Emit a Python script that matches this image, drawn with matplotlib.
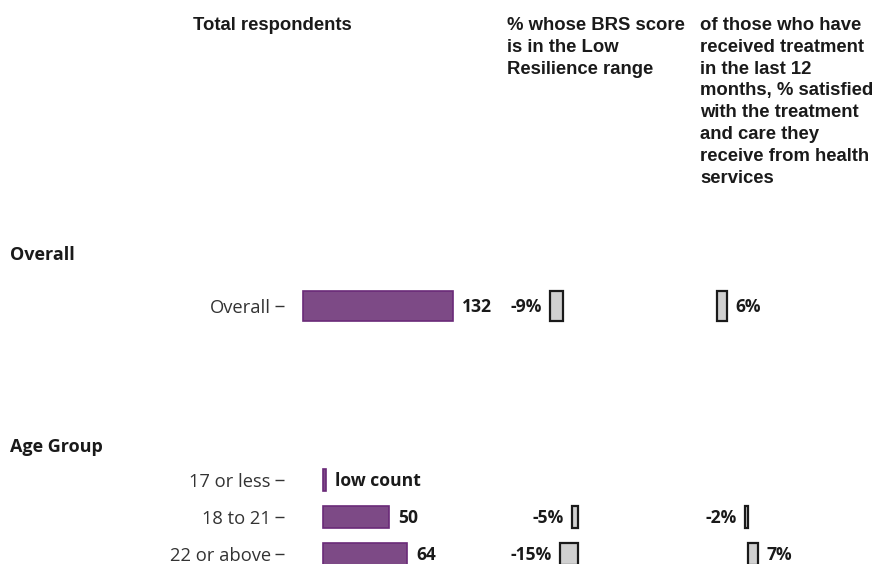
import matplotlib
matplotlib.use("Agg")
import matplotlib.pyplot as plt

# ---------------- data ----------------
overall_cats = ["Overall"]
overall_total = [132]
overall_total_labels = ["132"]
overall_brs = [-9]
overall_treat = [6]

age_cats = ["17 or less", "18 to 21", "22 or above"]
age_total = [2, 50, 64]
age_total_labels = ["low count", "50", "64"]
age_brs = [None, -5, -15]
age_treat = [None, -2, 7]

headers = [
    "Total respondents",
    "% whose BRS score\nis in the Low\nResilience range",
    "of those who have\nreceived treatment\nin the last 12\nmonths, % satisfied\nwith the treatment\nand care they\nreceive from health\nservices",
]
facet_labels = ["Overall", "Age Group"]

# ---------------- style ----------------
W, H = 878, 564
PURPLE = "#7d4a86"
PURPLE_EDGE = "#6a2a78"
GREY = "#d0d0d0"
TXT = "#1a1a1a"
BODY_FONT = "Open Sans"
HEAD_FONT = "Liberation Sans"
FS = 12.6
TICK_FS = 13.2

fig = plt.figure(figsize=(W / 100, H / 100), dpi=100)
fig.patch.set_facecolor("white")


def add_panel(x0, x1, ytop, ybot, zero_px, px_per_unit, n):
    ax = fig.add_axes([x0 / W, 1 - ybot / H, (x1 - x0) / W, (ybot - ytop) / H])
    ax.set_xlim((x0 - zero_px) / px_per_unit, (x1 - zero_px) / px_per_unit)
    ax.set_ylim(n - 0.5, -0.5)
    for s in ax.spines.values():
        s.set_visible(False)
    ax.set_xticks([])
    ax.set_yticks([])
    ax.patch.set_alpha(0)
    return ax


def value_label(ax, y, v, text, gap=8):
    off = gap if v >= 0 else -gap
    ax.annotate(text, xy=(v, y), xytext=(off, -1), textcoords="offset pixels",
                ha="left" if v >= 0 else "right", va="center",
                fontsize=FS, fontweight="bold", color=TXT, family=BODY_FONT)


# column pixel extents
COLS = [(284, 500), (500, 690), (690, 878)]
ROWS = {"overall": (279, 333), "age": (461.5, 572.5)}
BAR_H = 0.57

panels = [
    # (row, cats, total, total_labels, brs, treat, zeros, scales)
    ("overall", overall_cats, overall_total, overall_total_labels, overall_brs, overall_treat,
     (303, 563, 717), (1.136, 1.44, 1.67)),
    ("age", age_cats, age_total, age_total_labels, age_brs, age_treat,
     (323, 578, 748), (1.32, 1.2, 1.43)),
]

for row, cats, tot, tot_lab, brs, trt, zeros, scales in panels:
    ytop, ybot = ROWS[row]
    n = len(cats)
    ys = list(range(n))
    # total respondents
    ax = add_panel(COLS[0][0], COLS[0][1], ytop, ybot, zeros[0], scales[0], n)
    ax.barh(ys, tot, height=BAR_H, color=PURPLE, edgecolor=PURPLE_EDGE, linewidth=1.2)
    for y, v, lab in zip(ys, tot, tot_lab):
        value_label(ax, y, v, lab, gap=9)
    ax.set_yticks(ys)
    ax.set_yticklabels(cats, fontsize=TICK_FS, family=BODY_FONT, color="#333333")
    ax.tick_params(axis="y", length=6.5, width=1.0, color="#333333", pad=3)
    # BRS & treatment
    for ci, vals in ((1, brs), (2, trt)):
        ax = add_panel(COLS[ci][0], COLS[ci][1], ytop, ybot, zeros[ci], scales[ci], n)
        yy = [y for y, v in zip(ys, vals) if v is not None]
        vv = [v for v in vals if v is not None]
        ax.barh(yy, vv, height=BAR_H, color=GREY, edgecolor=TXT, linewidth=1.6)
        for y, v in zip(yy, vv):
            value_label(ax, y, v, f"{v}%", gap=8)

# headers
for x, txt in zip((193, 507, 700), headers):
    fig.text(x / W, 1 - 17 / H, txt, ha="left", va="top", fontsize=13.3,
             fontweight="bold", family=HEAD_FONT, color=TXT, linespacing=1.37)

# facet labels
for y, txt in zip((255, 447), facet_labels):
    fig.text(10 / W, 1 - y / H, txt, ha="left", va="center", fontsize=FS + 0.4,
             fontweight="bold", family=BODY_FONT, color=TXT)

fig.savefig("out.png", dpi=100, facecolor="white")
